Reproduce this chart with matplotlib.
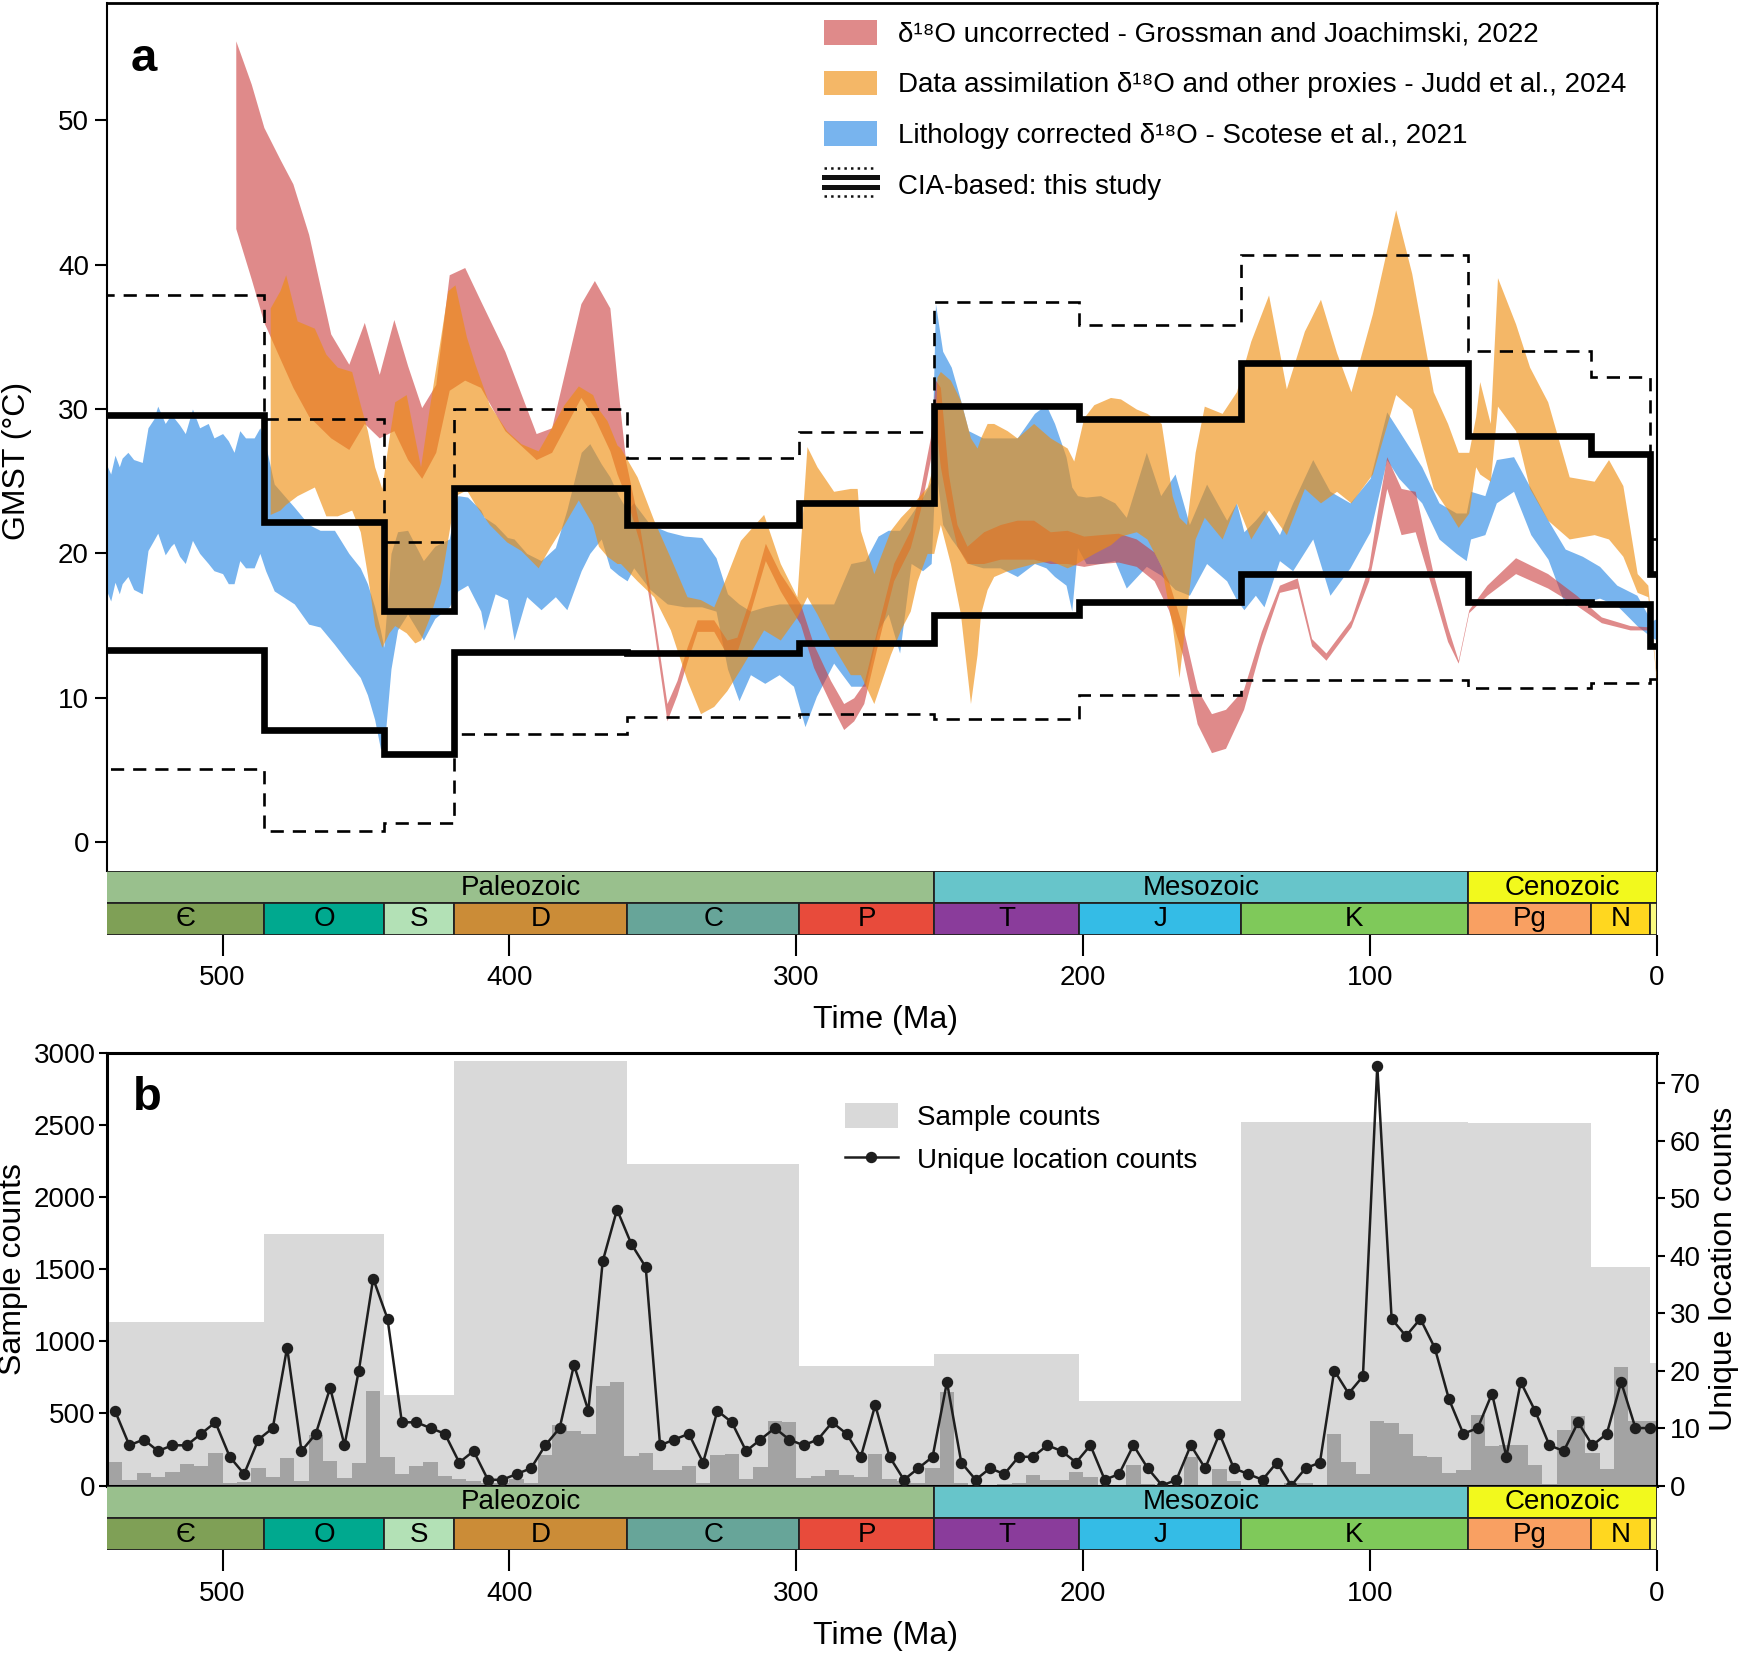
import matplotlib
matplotlib.use('Agg')
import matplotlib.pyplot as plt
import numpy as np
from matplotlib.patches import Patch
from matplotlib.lines import Line2D
from matplotlib.legend_handler import HandlerBase

plt.rcParams['font.family'] = ['Liberation Sans', 'DejaVu Sans']
plt.rcParams['font.size'] = 20

# ---------------- geologic time scale (Ma) ----------------
era_names = ['Paleozoic', 'Mesozoic', 'Cenozoic']
era_bounds = [541, 251.9, 66, 0]
era_colors = ['#99C08D', '#67C5CA', '#F2F91D']
period_names = ['Є', 'O', 'S', 'D', 'C', 'P', 'T', 'J', 'K', 'Pg', 'N', '']
period_bounds = [541, 485.4, 443.8, 419.2, 358.9, 298.9, 251.9, 201.4, 145, 66, 23.03, 2.58, 0]
period_colors = ['#7FA056', '#00A98F', '#B3E1B6', '#CB8C37', '#67A599', '#E84B3B',
                 '#8A3C9B', '#34BCE6', '#7FC95A', '#F9A062', '#FFD71F', '#F9F97F']
x_left = 540.3

# ---------------- panel a: CIA-based GMST (per bin) ----------------
cia_upper = [29.6, 22.2, 16.0, 24.5, 22.0, 23.5, 30.2, 29.3, 33.2, 28.1, 26.9, 18.6]
cia_lower = [13.3, 7.8, 6.1, 13.2, 13.1, 13.8, 15.7, 16.6, 18.6, 16.6, 16.5, 13.6]
cia_upper_ci = [37.9, 29.3, 20.8, 30.0, 26.6, 28.4, 37.4, 35.8, 40.7, 34.0, 32.2, 21.0]
cia_lower_ci = [5.1, 0.8, 1.3, 7.5, 8.7, 8.9, 8.5, 10.2, 11.2, 10.7, 11.0, 11.3]

# Grossman & Joachimski 2022 (uncorrected d18O)
red_age = [495.4, 490, 485.6, 480, 475.5, 470, 462.3, 456, 450.6, 445.4, 440.3, 435.5, 430.6,
           425.7, 421.0, 415.6, 410.1, 401.6, 390.7, 385.3, 375.1, 370.4, 365.0, 362.5, 359.5,
           354.4, 349.7, 345.1, 341.6, 338.1, 334.6, 328.8, 324.2, 320.7, 316.0, 310.8, 305.6,
           298.6, 294.0, 288.1, 283.5, 280.0, 276.5, 271.9, 266.1, 260.3, 256.8, 253.3, 251.5,
           249.8, 247, 244, 240.5, 234.7, 228.9, 223.1, 217.3, 211.5, 205.6, 199.8, 194.0, 187.8,
           181.5, 175.3, 170.3, 165.3, 160.3, 155.3, 150.4, 144.1, 137.9, 131.6, 125.4, 120.4,
           115.4, 106.7, 100.5, 97, 94.2, 89.2, 84.3, 78.0, 73.0, 69.3, 65.6, 59.3, 49.3, 38.1,
           28.1, 19.4, 9.4, 2.0]
red_hi = [55.5, 52.5, 49.5, 47.3, 45.6, 42.1, 35.2, 33.1, 36.0, 32.4, 36.2, 33.0, 30.1,
          31.7, 39.3, 39.8, 37.5, 34.0, 28.3, 28.7, 37.3, 38.9, 37.0, 32.0, 26.4,
          21.6, 15.8, 9.6, 11.2, 13.5, 15.4, 15.4, 14.0, 14.2, 17.0, 20.7, 18.6,
          16.5, 13.7, 11.2, 9.6, 10.0, 11.0, 14.7, 19.3, 21.6, 24.4, 28.0, 32.0,
          31.5, 25.5, 22.0, 20.5, 21.5, 22.0, 22.3, 22.3, 21.5, 21.6, 21.2, 21.3, 21.4,
          21.0, 20.1, 18.1, 14.9, 10.6, 8.9, 9.2, 10.6, 14.6, 17.8, 18.3, 14.1,
          13.1, 15.4, 19.1, 23.5, 26.7, 24.5, 24.3, 18.6, 14.9, 12.6, 16.1, 17.8, 19.7, 18.6,
          17.1, 15.6, 15.0, 14.9]
red_lo = [42.5, 39.0, 36.0, 33.5, 31.5, 29.5, 28.0, 27.2, 29.0, 28.0, 28.5, 26.5, 25.2,
          27.0, 31.3, 32.0, 31.5, 28.5, 26.5, 27.0, 30.8, 29.4, 27.1, 25.5, 24.0,
          20.6, 14.8, 8.4, 10.2, 12.5, 14.6, 14.6, 13.0, 13.2, 16.0, 19.5, 17.4,
          15.1, 12.1, 9.6, 7.8, 8.4, 9.6, 13.5, 18.1, 20.4, 23.0, 26.5, 29.0,
          26.0, 23.0, 20.5, 19.3, 19.3, 19.6, 19.6, 19.6, 19.3, 19.3, 19.1, 19.3, 19.4,
          19.1, 18.1, 16.1, 12.9, 8.2, 6.2, 6.5, 9.2, 13.6, 17.3, 17.6, 13.6,
          12.6, 14.9, 18.1, 21.5, 24.5, 21.3, 21.5, 17.3, 13.9, 12.4, 15.9, 17.1, 18.6, 17.6,
          16.4, 15.2, 14.7, 14.7]

# Judd et al. 2024 (data assimilation)
orange_age = [483.4, 480, 478, 474, 468, 464, 460, 455, 452, 449.5, 447, 444.5, 442, 440, 436,
              433, 431, 428, 424, 421.5, 419, 415, 412, 407, 401, 396, 390, 386, 381, 376, 371,
              369, 366, 362.5, 361.3, 355.5, 349.7, 343.9, 338.1, 333.4, 328.8, 324.2, 319.5,
              311.4, 305.6, 299.8, 296.3, 292.8, 287.0, 281.2, 278.8, 277.7, 273.0, 267.2, 263.7,
              260.3, 257.9, 254.4, 252.1, 251.0, 249.8, 246.3, 242.8, 239.3, 237.0, 235.8, 233.5,
              231.2, 226.5, 223.1, 217.3, 211.5, 205.6, 203.3, 199.8, 196.3, 190.5, 187, 181.5,
              177.8, 172.8, 169, 166.6, 164, 161, 157.8, 151.6, 146.6, 141.6, 135.4, 129.2, 122.9,
              117.3, 111.7, 106.7, 99.2, 91.1, 85.5, 78.0, 73.0, 69.3, 65.6, 63.2, 61.8, 58.1,
              55.6, 49.3, 44.4, 38.1, 30.6, 21.9, 16.9, 11.9, 6.9, 3.2, 0.1]
orange_hi = [37.0, 38.2, 39.3, 36.1, 35.6, 33.8, 32.9, 32.6, 30.3, 28.5, 26.0, 24.5, 28.0, 30.5, 31.0,
             28.0, 26.0, 30.0, 35.0, 38.2, 38.6, 35.0, 33.1, 30.3, 28.5, 27.6, 27.1, 28.5, 30.3, 31.6, 31.0,
             30.0, 29.2, 27.5, 27.3, 25.3, 22.3, 19.7, 17.0, 16.8, 16.3, 18.5, 20.9,
             22.7, 19.3, 17.0, 27.4, 26.0, 24.3, 24.5, 24.5, 21.6, 18.6, 21.6, 22.5,
             23.2, 23.8, 24.6, 26.2, 32.2, 32.6, 32.0, 30.6, 28.0, 27.3, 28.0, 29.0,
             29.0, 28.5, 28.0, 29.0, 28.0, 27.3, 26.4, 29.4, 30.3, 30.8, 30.7, 30.0,
             29.7, 29.0, 24.0, 22.5, 22.0, 27.0, 30.2, 29.7, 31.2, 34.7, 37.9, 31.4, 35.4,
             37.6, 33.9, 31.2, 36.6, 43.8, 39.4, 31.2, 29.0, 27.0, 27.0, 29.5, 31.9, 29.0,
             39.1, 35.9, 32.9, 30.5, 25.3, 25.0, 26.5, 24.7, 18.6, 17.8, 11.2]
orange_lo = [22.7, 23.0, 23.4, 24.0, 24.6, 22.6, 22.6, 23.0, 21.5, 18.5, 15.0, 13.5, 14.5, 15.0, 14.5,
             13.8, 14.0, 15.5, 18.0, 21.0, 24.0, 24.4, 23.4, 22.0, 20.8, 20.2, 19.0, 20.4, 22.0, 23.7, 22.0,
             20.5, 19.8, 19.3, 19.3, 18.1, 17.0, 14.7, 11.2, 8.9, 9.4, 10.5, 12.0,
             14.7, 14.0, 15.6, 17.0, 15.8, 13.5, 11.6, 11.6, 11.6, 9.6, 13.0, 14.7,
             16.0, 18.1, 20.0, 20.0, 21.0, 22.0, 19.3, 15.8, 9.6, 13.0, 15.8, 17.5,
             18.4, 18.8, 19.0, 19.3, 19.5, 19.0, 19.2, 19.6, 20.0, 20.6, 21.2, 21.5,
             21.0, 19.1, 15.0, 11.4, 16.0, 21.0, 22.5, 21.0, 23.5, 21.0, 23.0, 21.3, 24.5,
             23.5, 24.3, 23.5, 25.5, 31.0, 30.0, 24.5, 23.0, 21.8, 22.8, 26.0, 25.5, 25.0,
             30.2, 28.5, 24.5, 22.3, 21.0, 21.3, 21.0, 19.8, 17.3, 17.0, 11.0]

# Scotese et al. 2021 (lithology corrected)
blue_age = [541, 539, 537.5, 536, 535, 533, 531, 528, 526, 524, 522.6, 520, 518, 517, 515, 513,
            510.5, 508, 505, 503, 500, 498, 496, 494, 492, 489, 487, 485, 482, 475, 470, 466, 461,
            456, 452, 449.5, 447, 445, 443.8, 441.3, 439, 435.5, 430, 426, 421, 418, 414.6, 410,
            408.8, 405, 400.7, 398.4, 394, 389, 384, 380, 375, 372, 368, 365, 362, 359, 356.7, 351,
            345, 339, 333, 328, 324, 320, 316, 311, 306, 301, 297, 293, 287, 281, 276, 271.5, 268,
            264, 260, 256, 253, 251.5, 249, 246, 243, 240, 235, 229, 223, 217, 213, 210, 206, 204,
            202, 199, 194, 189, 185, 178, 173, 168, 163, 157, 150, 146.6, 144, 140, 137, 131.6, 127,
            120, 114, 107, 100, 94.2, 90, 82, 76, 70, 66.5, 65, 60, 56, 50, 44, 38, 32, 26, 20, 14,
            7, 2, 0]
blue_hi = [26.4, 25.5, 26.8, 26.0, 26.6, 27.0, 26.5, 26.3, 28.7, 29.3, 30.2, 29.0, 29.6, 29.4, 28.9, 28.3,
           30.0, 28.7, 29.0, 28.0, 28.3, 27.8, 27.0, 28.5, 28.0, 28.0, 28.7, 27.5, 24.8, 23.2, 22.0, 21.6, 21.6,
           20.0, 19.0, 17.9, 16.3, 14.7, 13.5, 20.0, 21.5, 21.6, 19.5, 20.5, 21.0, 24.0, 23.9, 23.0,
           22.5, 22.0, 21.1, 21.0, 20.0, 19.5, 20.4, 23.0, 27.0, 27.6, 26.2, 25.3, 24.0, 23.0, 23.5, 22.0,
           21.5, 21.2, 21.1, 19.7, 17.2, 16.5, 16.0, 16.3, 16.5, 16.5, 16.5, 16.5, 16.5, 19.3, 19.5, 21.2, 21.6,
           21.6, 22.7, 23.9, 25.0, 37.3, 34.0, 32.9, 30.8, 28.5, 28.0, 28.0, 28.0, 29.7, 30.3, 29.0, 26.7, 24.6,
           24.0, 23.9, 24.0, 23.5, 22.5, 27.0, 24.0, 25.5, 22.0, 24.8, 22.3, 23.5, 21.5, 22.3, 23.0, 21.3, 23.5,
           26.5, 24.3, 23.5, 25.2, 29.8, 28.5, 26.0, 23.5, 22.8, 22.8, 24.3, 24.0, 26.5, 26.7, 24.5, 22.3, 20.3,
           19.8, 19.1, 17.8, 17.1, 15.3, 15.5]
blue_lo = [17.7, 16.7, 18.0, 17.2, 17.9, 18.4, 17.5, 17.2, 20.2, 20.9, 21.4, 19.9, 20.5, 20.7, 19.8, 19.3,
           20.9, 20.0, 19.3, 18.8, 18.6, 17.9, 17.9, 19.5, 19.0, 19.0, 20.0, 18.8, 17.4, 16.5, 15.1, 14.9, 13.7,
           12.4, 11.4, 10.2, 8.5, 6.5, 6.3, 12.0, 14.7, 15.8, 14.0, 15.5, 16.3, 17.4, 17.8, 16.0,
           14.7, 17.2, 16.8, 14.0, 17.0, 16.1, 17.0, 16.1, 18.8, 20.0, 21.0, 19.0, 18.5, 18.1, 19.0, 17.5,
           16.5, 16.3, 16.3, 16.0, 12.0, 9.8, 11.6, 11.0, 11.6, 10.8, 8.0, 10.1, 12.4, 10.8, 10.8, 14.7, 15.8,
           13.1, 19.3, 18.8, 19.3, 26.0, 22.0, 21.0, 20.2, 19.3, 19.0, 19.0, 18.4, 19.3, 19.0, 18.4, 17.8, 16.0,
           20.4, 19.3, 19.3, 19.5, 17.6, 19.1, 18.5, 17.5, 17.1, 19.3, 18.1, 16.8, 16.1, 17.1, 16.3, 19.5, 18.8,
           21.0, 17.1, 19.0, 21.5, 26.5, 25.2, 23.5, 21.0, 20.0, 19.5, 21.0, 21.3, 23.5, 24.3, 21.3, 19.6, 16.4,
           16.6, 16.9, 16.4, 15.0, 14.2, 14.0]

# ---------------- panel b: sample and location counts ----------------
sample_counts = [1132, 1746, 630, 2949, 2234, 831, 912, 585, 2525, 2515, 1520, 850]
bin_counts = [160, 40, 85, 60, 95, 148, 136, 226, 20, 25, 123, 60, 190, 30, 349, 173, 55, 155, 655, 200,
              80, 138, 160, 67, 46, 32, 20, 15, 46, 15, 215, 423, 377, 361, 689, 717, 208, 226, 108, 110,
              136, 20, 213, 220, 46, 130, 445, 440, 50, 67, 106, 76, 60, 217, 42, 30, 15, 120, 646, 15,
              5, 5, 10, 20, 74, 40, 35, 96, 57, 5, 5, 142, 10, 5, 5, 200, 5, 112, 29, 3,
              5, 7, 20, 20, 5, 359, 160, 81, 445, 433, 359, 206, 197, 86, 109, 491, 271, 283, 282, 142,
              9, 387, 484, 229, 112, 821, 445, 445]
location_counts = [13, 7, 8, 6, 7, 7, 9, 11, 5, 2, 8, 10, 24, 6, 9, 17, 7, 20, 36, 29,
                   11, 11, 10, 9, 4, 6, 1, 1, 2, 3, 7, 10, 21, 13, 39, 48, 42, 38, 7, 8,
                   9, 4, 13, 11, 6, 8, 10, 8, 7, 8, 11, 9, 5, 14, 5, 1, 3, 5, 18, 4,
                   1, 3, 2, 5, 5, 7, 6, 4, 7, 1, 2, 7, 3, 0, 1, 7, 3, 9, 3, 2,
                   1, 4, 0, 3, 4, 20, 16, 19, 73, 29, 26, 29, 24, 15, 9, 10, 16, 5, 18, 13,
                   7, 6, 11, 7, 9, 18, 10, 10]
bin_width = 5
bin_old = 540 - bin_width * np.arange(len(bin_counts))
bin_mid = bin_old - bin_width / 2

clrRed = '#CB3C3C'
clrOrange = '#EF8D0E'
clrBlue = '#78B4EE'
clrLight = '#D9D9D9'
clrDark = '#A3A3A3'

fig = plt.figure(figsize=(17.42, 16.55), dpi=100)
L, W = 0.0614, 0.8898


def draw_timescale(ax):
    for i in range(len(era_names)):
        ax.bar(x=era_bounds[i + 1], height=1, width=era_bounds[i] - era_bounds[i + 1], bottom=1,
               align='edge', color=era_colors[i], edgecolor='#222222', linewidth=1.3)
        ax.text((min(era_bounds[i], x_left) + era_bounds[i + 1]) / 2, 1.48, era_names[i], ha='center',
                va='center', fontsize=20)
    for i in range(len(period_names)):
        ax.bar(x=period_bounds[i + 1], height=1, width=period_bounds[i] - period_bounds[i + 1], bottom=0,
               align='edge', color=period_colors[i], edgecolor='#222222', linewidth=1.3)
        ax.text((min(period_bounds[i], x_left) + period_bounds[i + 1]) / 2, 0.48, period_names[i],
                ha='center', va='center', fontsize=20)
    ax.set_xlim(x_left, 0)
    ax.set_ylim(0, 2)
    ax.set_yticks([])
    for s in ax.spines.values():
        s.set_visible(False)
    ax.set_xticks([500, 400, 300, 200, 100, 0])
    ax.tick_params(axis='x', length=15, width=1.5, pad=7, labelsize=20)


class CIAHandler(HandlerBase):
    def create_artists(self, legend, orig_handle, xdescent, ydescent, width, height, fontsize, trans):
        x0, x1 = -xdescent, -xdescent + width
        arts = []
        for y, lw, ls in [(height * 1.05, 1.8, ':'), (height * 0.7, 3.6, '-'),
                          (height * 0.26, 3.6, '-'), (-height * 0.1, 1.8, ':')]:
            arts.append(Line2D([x0, x1], [y, y], color='#111111', lw=lw, linestyle=ls, transform=trans))
        return arts


# ---------------- panel a ----------------
ax1 = fig.add_axes([L, 0.4737, W, 0.5243])
ax1.fill_between(blue_age, blue_lo, blue_hi, color=clrBlue, linewidth=0, zorder=1)
ax1.fill_between(red_age, red_lo, red_hi, color=clrRed, alpha=0.6, linewidth=0, zorder=2)
ax1.fill_between(orange_age, orange_lo, orange_hi, color=clrOrange, alpha=0.63, linewidth=0, zorder=3)

edges_up = period_bounds[::-1]
ax1.stairs(cia_upper_ci[::-1], edges_up, baseline=None, color='k', lw=1.9, linestyle=(0, (5, 3.4)), zorder=4)
ax1.stairs(cia_lower_ci[::-1], edges_up, baseline=None, color='k', lw=1.9, linestyle=(0, (5, 3.4)), zorder=4)
ax1.stairs(cia_upper[::-1], edges_up, baseline=None, color='k', lw=4.8, zorder=5)
ax1.stairs(cia_lower[::-1], edges_up, baseline=None, color='k', lw=4.8, zorder=5)

ax1.set_xlim(x_left, 0)
ax1.set_ylim(-2, 58.1)
ax1.set_xticks([])
ax1.set_yticks([0, 10, 20, 30, 40, 50])
ax1.tick_params(axis='y', length=9, width=1.5, pad=4, labelsize=20)
ax1.spines['bottom'].set_visible(False)
ax1.spines['top'].set_linewidth(2.0)
ax1.spines['left'].set_linewidth(1.5)
ax1.spines['right'].set_linewidth(1.5)
ax1.text(0.015, 0.936, 'a', transform=ax1.transAxes, fontsize=34, fontweight='bold', va='center')

d18 = '\u03b4\u00b9\u2078O'
handles = [Patch(facecolor=clrRed, alpha=0.6, linewidth=0),
           Patch(facecolor=clrOrange, alpha=0.63, linewidth=0),
           Patch(facecolor=clrBlue, linewidth=0),
           Line2D([], [], color='k')]
labels = [d18 + ' uncorrected - Grossman and Joachimski, 2022',
          'Data assimilation ' + d18 + ' and other proxies - Judd et al., 2024',
          'Lithology corrected ' + d18 + ' - Scotese et al., 2021',
          'CIA-based: this study']
ax1.legend(handles, labels, loc='upper left', bbox_to_anchor=(0.4628, 0.981), frameon=False,
           fontsize=20, handlelength=1.9, handleheight=1.0, handletextpad=0.75, labelspacing=0.82,
           borderpad=0, borderaxespad=0, handler_map={Line2D: CIAHandler()})

ts1 = fig.add_axes([L, 0.4353, W, 0.0384])
draw_timescale(ts1)

# ---------------- panel b ----------------
ax2 = fig.add_axes([L, 0.1024, W, 0.2612])
pb = period_bounds
ax2.bar(pb[1:], sample_counts, np.array(pb[:-1]) - np.array(pb[1:]), align='edge', color=clrLight,
        linewidth=0, zorder=1)
ax2.bar(bin_old - bin_width, bin_counts, bin_width, align='edge', color=clrDark, linewidth=0, zorder=2)
ax2.set_xlim(x_left, 0)
ax2.set_ylim(0, 3000)
ax2.set_xticks([])
ax2.set_yticks(np.arange(0, 3001, 500))
ax2.tick_params(axis='y', length=6, width=1.5, pad=2, labelsize=20)
for s in ['top', 'left', 'bottom']:
    ax2.spines[s].set_linewidth(2.2)
ax2.spines['right'].set_visible(False)

ax3 = ax2.twinx()
ax3.plot(bin_mid, location_counts, color='#1E1E1E', lw=1.8, marker='o', markersize=7.2, zorder=5)
ax3.set_ylim(0, 75.2)
ax3.set_xlim(x_left, 0)
ax3.set_yticks(np.arange(0, 71, 10))
ax3.tick_params(axis='y', length=6, width=1.5, pad=3, labelsize=20)
ax3.spines['right'].set_linewidth(1.5)
for s in ['top', 'left', 'bottom']:
    ax3.spines[s].set_visible(False)
ax3.text(0.0165, 0.897, 'b', transform=ax3.transAxes, fontsize=34, fontweight='bold', va='center')
ax3.legend([Patch(facecolor=clrLight, linewidth=0),
            Line2D([], [], color='#1E1E1E', lw=1.8, marker='o', markersize=7.2)],
           ['Sample counts', 'Unique location counts'], loc='upper left',
           bbox_to_anchor=(0.476, 0.885), frameon=False, fontsize=20, handlelength=1.9,
           handleheight=1.0, handletextpad=0.7, labelspacing=0.55, borderpad=0, borderaxespad=0)

ts2 = fig.add_axes([L, 0.0634, W, 0.039])
draw_timescale(ts2)

# ---------------- axis titles ----------------
fig.text(0.0096, 0.7213, 'GMST (°C)', rotation=90, ha='center', va='center', fontsize=23)
fig.text(0.5083, 0.3837, 'Time (Ma)', ha='center', va='center', fontsize=23)
fig.text(0.0077, 0.2333, 'Sample counts', rotation=90, ha='center', va='center', fontsize=23)
fig.text(0.9899, 0.2333, 'Unique location counts', rotation=90, ha='center', va='center', fontsize=23)
fig.text(0.5083, 0.0112, 'Time (Ma)', ha='center', va='center', fontsize=23)

fig.savefig('out.png', dpi=100)
